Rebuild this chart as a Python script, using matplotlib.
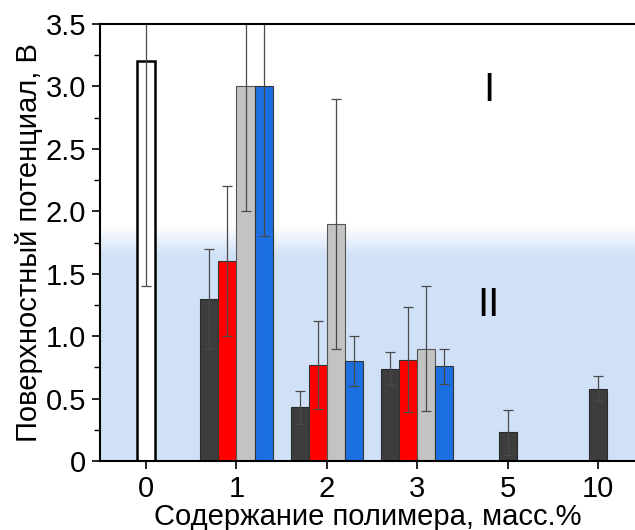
import numpy as np
import matplotlib
matplotlib.use('Agg')
import matplotlib.pyplot as plt
from matplotlib.colors import LinearSegmentedColormap
from matplotlib.ticker import MultipleLocator, FuncFormatter

plt.rcParams['font.family'] = ['Liberation Sans', 'DejaVu Sans']

# данные
categories = ['0', '1', '2', '3', '5', '10']
# чистый образец (0 %)
pure_val = 3.2
pure_err = 1.8
# четыре серии для 1-3 %, для 5 и 10 % только первая
dark_val = [1.30, 0.43, 0.74, 0.23, 0.58]
dark_err = [0.40, 0.13, 0.13, 0.18, 0.10]
red_val = [1.60, 0.77, 0.81]
red_err = [0.60, 0.35, 0.42]
gray_val = [3.00, 1.90, 0.90]
gray_err = [1.00, 1.00, 0.50]
blue_val = [3.00, 0.80, 0.76]
blue_err = [1.20, 0.20, 0.14]

fig = plt.figure(figsize=(6.35, 5.3), dpi=100)
ax = fig.add_axes([0.1575, 0.1302, 0.8425, 0.8245])

x = np.arange(len(categories))
w = 0.2
ekw = dict(ecolor='#4a4a4a', elinewidth=0.9, capsize=3.5, capthick=0.9)

# фон: зона II (голубая) с плавным переходом
xlim = (-0.51, 5.41)
bg = '#d0e1f7'
ax.axhspan(0, 1.64, color=bg, lw=0, zorder=0)
fade = np.linspace(0, 1, 100).reshape(-1, 1)
ax.imshow(fade, cmap=LinearSegmentedColormap.from_list('f', [bg, '#ffffff']),
          extent=[xlim[0], xlim[1], 1.64, 1.88], aspect='auto', origin='lower', zorder=0)

ax.bar(x[0], pure_val, w, yerr=pure_err, color='white', edgecolor='black',
       linewidth=1.8, error_kw=ekw, zorder=2)

xs4 = x[1:4]
ax.bar(xs4 - 1.5 * w, dark_val[:3], w, yerr=dark_err[:3], color='#3d3d3d',
       edgecolor='#2a2a2a', linewidth=0.8, error_kw=ekw, zorder=2)
ax.bar(xs4 - 0.5 * w, red_val, w, yerr=red_err, color='#ff0000',
       edgecolor='#333333', linewidth=0.8, error_kw=ekw, zorder=2)
ax.bar(xs4 + 0.5 * w, gray_val, w, yerr=gray_err, color='#c3c3c3',
       edgecolor='#555555', linewidth=0.8, error_kw=ekw, zorder=2)
ax.bar(xs4 + 1.5 * w, blue_val, w, yerr=blue_err, color='#1b6fe0',
       edgecolor='#333333', linewidth=0.8, error_kw=ekw, zorder=2)
ax.bar(x[4:], dark_val[3:], w, yerr=dark_err[3:], color='#3d3d3d',
       edgecolor='#2a2a2a', linewidth=0.8, error_kw=ekw, zorder=2)

ax.text(3.79, 2.97, 'I', fontsize=29, ha='center', va='center')
ax.text(3.79, 1.25, 'II', fontsize=29, ha='center', va='center')

ax.set_xlim(*xlim)
ax.set_ylim(0, 3.5)
ax.set_xticks(x)
ax.set_xticklabels(categories)
ax.yaxis.set_major_locator(MultipleLocator(0.5))
ax.yaxis.set_minor_locator(MultipleLocator(0.25))
ax.yaxis.set_major_formatter(FuncFormatter(lambda v, p: '0' if v == 0 else '%.1f' % v))
ax.tick_params(axis='both', which='major', labelsize=21, length=6, width=1.2,
               direction='out', pad=4)
ax.tick_params(axis='y', which='minor', length=4, width=1.0, direction='out')
ax.spines['right'].set_visible(False)
for s in ['left', 'top', 'bottom']:
    ax.spines[s].set_linewidth(1.5)

ax.set_xlabel('Содержание полимера, масс.%', fontsize=21, labelpad=0)
ax.set_ylabel('Поверхностный потенциал, В', fontsize=21, labelpad=2)

fig.savefig('out.png', dpi=100)
